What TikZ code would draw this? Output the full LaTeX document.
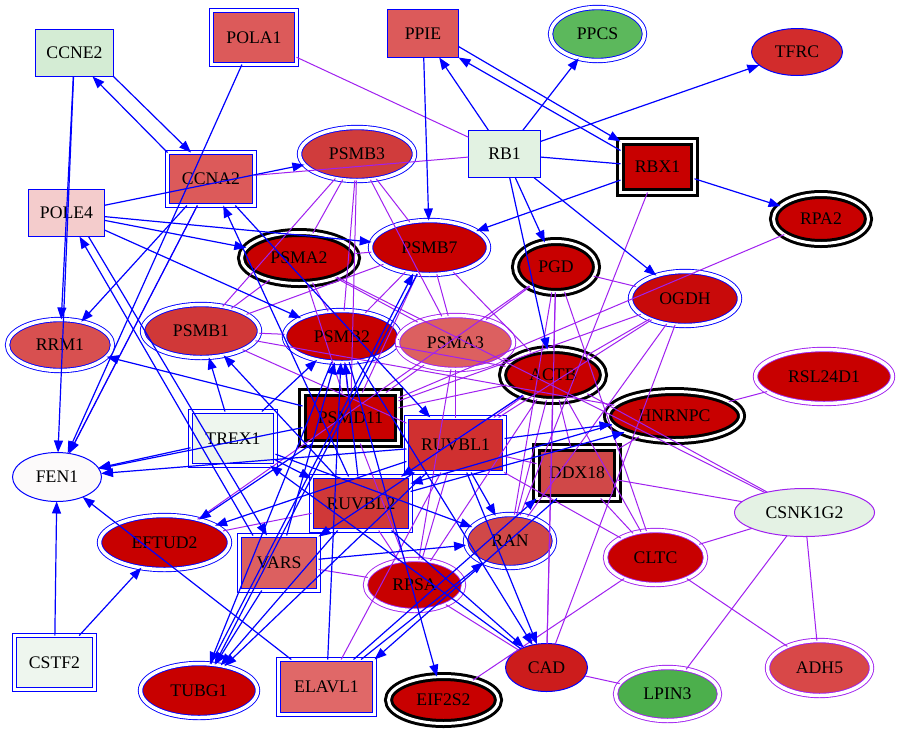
\documentclass[tikz,border=0pt]{standalone}
\usepackage{fontspec}
\setmainfont{Liberation Serif}
\usetikzlibrary{shapes.geometric,arrows.meta,calc}
\definecolor{eblue}{HTML}{0000FF}
\definecolor{epurp}{HTML}{A020F0}
\tikzset{
  base/.style={inner sep=0pt, outer sep=0pt, text=black, font=\fontsize{17.7}{20}\selectfont},
  sbox/.style={base, rectangle, draw=eblue, line width=1pt},
  dbox/.style={base, rectangle, draw=eblue, line width=0.9pt, double=white, double distance=3.5pt},
  kbox/.style={base, rectangle, draw=black, line width=3pt, double=white, double distance=3pt},
  sell/.style={base, ellipse, draw=eblue, line width=1pt},
  psell/.style={base, ellipse, draw=epurp, line width=1pt},
  dell/.style={base, ellipse, draw=eblue, line width=0.9pt, double=white, double distance=3.5pt},
  pell/.style={base, ellipse, draw=epurp, line width=0.9pt, double=white, double distance=3.5pt},
  kell/.style={base, ellipse, draw=black, line width=3pt, double=white, double distance=3pt},
  sz/.style 2 args={minimum width=#1pt, minimum height=#2pt},
  be/.style={draw=eblue, line width=1.2pt, -{Triangle[length=12pt,width=9pt]}},
  bl/.style={draw=eblue, line width=1.2pt},
  pe/.style={draw=epurp, line width=1pt}
}
\begin{document}
\begin{tikzpicture}[x=1pt,y=-1pt]
\useasboundingbox (0,0) rectangle (901,737);
\fill[white] (0,0) rectangle (901,737);
% nodes
\node[sbox, fill={rgb,255:red,212;green,236;blue,212}, sz={78}{47}] (CCNE2) at (74.5,53) {CCNE2};
\node[dbox, fill={rgb,255:red,220;green,90;blue,90}, sz={85}{54}] (POLA1) at (254,37.5) {POLA1};
\node[sbox, fill={rgb,255:red,220;green,90;blue,90}, sz={71}{48}] (PPIE) at (423,33.5) {PPIE};
\node[dell, fill={rgb,255:red,92;green,184;blue,92}, sz={94}{53}] (PPCS) at (597.5,34) {PPCS};
\node[sell, fill={rgb,255:red,210;green,44;blue,44}, sz={91}{47}] (TFRC) at (797,52) {TFRC};
\node[sbox, fill={rgb,255:red,226;green,242;blue,226}, sz={72}{47}] (RB1) at (504.5,154) {RB1};
\node[kbox, fill={rgb,255:red,200;green,0;blue,0}, sz={74}{51}] (RBX1) at (657.5,167) {RBX1};
\node[kell, fill={rgb,255:red,200;green,0;blue,0}, sz={95}{49}] (RPA2) at (821,219) {RPA2};
\node[dbox, fill={rgb,255:red,220;green,90;blue,90}, sz={87}{53}] (CCNA2) at (211,179) {CCNA2};
\node[sbox, fill={rgb,255:red,244;green,204;blue,204}, sz={76}{47}] (POLE4) at (66.5,213) {POLE4};
\node[dell, fill={rgb,255:red,208;green,60;blue,60}, sz={115}{53}] (PSMB3) at (357,154) {PSMB3};
\node[dell, fill={rgb,255:red,200;green,0;blue,0}, sz={118}{54}] (PSMB7) at (429.5,247.5) {PSMB7};
\node[kell, fill={rgb,255:red,200;green,0;blue,0}, sz={115}{51}] (PSMA2) at (299,258) {PSMA2};
\node[kell, fill={rgb,255:red,200;green,0;blue,0}, sz={81}{51}] (PGD) at (556,267) {PGD};
\node[dell, fill={rgb,255:red,200;green,10;blue,10}, sz={109}{54}] (OGDH) at (685,298.5) {OGDH};
\node[dell, fill={rgb,255:red,216;green,80;blue,80}, sz={105}{51}] (RRM1) at (60,345) {RRM1};
\node[dell, fill={rgb,255:red,208;green,56;blue,56}, sz={117}{53}] (PSMB1) at (201,331) {PSMB1};
\node[dell, fill={rgb,255:red,200;green,0;blue,0}, sz={115}{52}] (PSMB2) at (342,336.5) {PSMB2};
\node[pell, fill={rgb,255:red,220;green,96;blue,96}, sz={116}{54}] (PSMA3) at (455.5,342.5) {PSMA3};
\node[kell, fill={rgb,255:red,200;green,0;blue,0}, sz={101}{51}] (ACTB) at (553,375) {ACTB};
\node[pell, fill={rgb,255:red,200;green,0;blue,0}, sz={137}{54}] (RSL24D1) at (824,376.5) {RSL24D1};
\node[kell, fill={rgb,255:red,200;green,0;blue,0}, sz={134}{49}] (HNRNPC) at (674.5,416) {HNRNPC};
\node[dbox, fill={rgb,255:red,238;green,246;blue,238}, sz={85}{54}] (TREX1) at (233,438.5) {TREX1};
\node[kbox, fill={rgb,255:red,200;green,0;blue,0}, sz={96}{51}] (PSMD11) at (350.5,418) {PSMD11};
\node[dbox, fill={rgb,255:red,208;green,48;blue,48}, sz={98}{55}] (RUVBL1) at (455.5,445) {RUVBL1};
\node[kbox, fill={rgb,255:red,208;green,72;blue,72}, sz={81}{51}] (DDX18) at (577,473) {DDX18};
\node[sell, fill={rgb,255:red,252;green,250;blue,250}, sz={89}{49}] (FEN1) at (57,477) {FEN1};
\node[psell, fill={rgb,255:red,228;green,242;blue,228}, sz={140}{48}] (CSNK1G2) at (804.5,512.5) {CSNK1G2};
\node[dbox, fill={rgb,255:red,208;green,56;blue,56}, sz={99}{54}] (RUVBL2) at (361,503.5) {RUVBL2};
\node[dell, fill={rgb,255:red,200;green,0;blue,0}, sz={130}{54}] (EFTUD2) at (164.5,542.5) {EFTUD2};
\node[dbox, fill={rgb,255:red,220;green,96;blue,96}, sz={79}{55}] (VARS) at (279,563) {VARS};
\node[dell, fill={rgb,255:red,208;green,72;blue,72}, sz={89}{53}] (RAN) at (510,541) {RAN};
\node[pell, fill={rgb,255:red,200;green,0;blue,0}, sz={100}{54}] (CLTC) at (655.5,557.5) {CLTC};
\node[pell, fill={rgb,255:red,200;green,0;blue,0}, sz={98}{51}] (RPSA) at (414.5,585) {RPSA};
\node[dbox, fill={rgb,255:red,238;green,246;blue,238}, sz={80}{54}] (CSTF2) at (54.5,662.5) {CSTF2};
\node[dell, fill={rgb,255:red,200;green,0;blue,0}, sz={117}{54}] (TUBG1) at (199,690.5) {TUBG1};
\node[dbox, fill={rgb,255:red,224;green,104;blue,104}, sz={96}{55}] (ELAVL1) at (326.5,687) {ELAVL1};
\node[kell, fill={rgb,255:red,200;green,0;blue,0}, sz={110}{47}] (EIF2S2) at (443.5,700) {EIF2S2};
\node[sell, fill={rgb,255:red,204;green,28;blue,28}, sz={82}{48}] (CAD) at (546.5,667.5) {CAD};
\node[pell, fill={rgb,255:red,76;green,175;blue,76}, sz={104}{53}] (LPIN3) at (667.5,694) {LPIN3};
\node[pell, fill={rgb,255:red,216;green,72;blue,72}, sz={104}{55}] (ADH5) at (819.5,668) {ADH5};
% undirected (purple) edges
\foreach \a/\b in {RB1/POLA1, RB1/CCNA2, CCNA2/FEN1,
  PSMB3/PSMB1, PSMB3/PSMA2, PSMB3/PSMB2, PSMB3/PSMD11, PSMB3/PSMA3, PSMB3/PSMB7,
  PSMB7/PSMA2, PSMB7/PSMB2, PSMB7/PSMA3, PSMB7/ACTB, PSMB7/PSMD11, PSMB7/PSMB1,
  PSMA2/PSMB1, PSMA2/PSMB2, PSMA2/PSMD11, PSMA2/PSMA3, PSMA2/CSNK1G2,
  PSMB1/PSMB2, PSMB1/RUVBL1, PSMB1/HNRNPC,
  PSMB2/PSMA3, PSMB2/PSMD11, PSMB2/ACTB,
  PSMA3/ACTB, PSMA3/RUVBL1, PSMA3/RPSA, PSMA3/PSMD11,
  PGD/OGDH, PGD/ACTB, PGD/EFTUD2, PGD/CLTC, PGD/CAD, PGD/RAN, PGD/PSMA3,
  OGDH/ACTB, OGDH/PSMD11, OGDH/RUVBL1, OGDH/CAD, OGDH/RAN,
  RPA2/PSMD11, RBX1/RAN,
  ACTB/PSMD11, ACTB/RUVBL1, ACTB/RUVBL2, ACTB/DDX18, ACTB/RAN, ACTB/RPSA, ACTB/CAD, ACTB/CLTC, ACTB/CSNK1G2,
  HNRNPC/RSL24D1, HNRNPC/DDX18,
  DDX18/CSNK1G2, DDX18/CLTC, DDX18/RUVBL1,
  CSNK1G2/CLTC, CSNK1G2/LPIN3, CSNK1G2/ADH5, CLTC/ADH5, CLTC/EIF2S2, CLTC/RUVBL1,
  CAD/LPIN3, RPSA/VARS, RPSA/CAD, RPSA/RUVBL2, RPSA/PSMD11, RPSA/RUVBL1,
  ELAVL1/RUVBL1, RUVBL2/EFTUD2}
  \draw[pe] (\a) -- (\b);
% directed (blue) edges
\foreach \a/\b in {POLE4/PSMB3, POLE4/PSMA2, POLE4/PSMB7, POLE4/PSMB2,
  CCNE2/RRM1, CCNE2/FEN1, POLA1/FEN1, CCNA2/FEN1, CCNA2/RRM1, CCNA2/RUVBL1, RUVBL2/CCNA2,
  RB1/PPIE, PPIE/PSMB7, RB1/PPCS, RB1/TFRC, RBX1/RPA2, RBX1/PSMB7, RB1/OGDH, RB1/PGD, RB1/ACTB,
  PSMD11/RRM1, TREX1/PSMB1, RUVBL2/PSMB1, TREX1/FEN1, PSMD11/FEN1, RUVBL1/FEN1, ELAVL1/FEN1,
  CSTF2/FEN1, CSTF2/EFTUD2, PSMD11/EFTUD2, RUVBL1/EFTUD2,
  ELAVL1/PSMB2, VARS/PSMB2, RUVBL2/PSMB2, TREX1/PSMB2,
  PSMB2/TUBG1, VARS/TUBG1, RUVBL2/TUBG1, RUVBL1/TUBG1,
  TREX1/RUVBL2, CAD/TREX1, TREX1/RAN, RUVBL1/HNRNPC, RUVBL1/RAN, VARS/RAN, ELAVL1/RAN,
  RUVBL1/CAD, RUVBL2/CAD, PSMB2/CAD, PSMB2/EIF2S2, RUVBL1/VARS, ACTB/RUVBL2}
  \draw[be] (\a) -- (\b);
\draw[bl] (RB1) -- (RBX1);
% reciprocal pairs
\draw[be] (CCNE2.south east) -- ([xshift=-20pt]CCNA2.north);
\draw[be] (CCNA2.north west) -- ([xshift=18pt]CCNE2.south);
\draw[be] ([yshift=-13pt]PPIE.east) -- (RBX1.north west);
\draw[be] ([yshift=-9pt]RBX1.north west) -- (PPIE.south east);
\draw[be] ([xshift=22pt]POLE4.south) -- ([xshift=-12pt]VARS.north);
\draw[be] ([xshift=-26pt]VARS.north) -- ([xshift=13pt]POLE4.south);
\draw[be] ([xshift=27pt]ELAVL1.north) -- (DDX18.south west);
\draw[be] ([xshift=-20pt]DDX18.south) -- (ELAVL1.north east);
\draw[be] ([yshift=12pt]RUVBL2.east) -- (HNRNPC.198);
\draw[be] (HNRNPC.188) -- ([yshift=20pt]RUVBL2.east);
\draw[be] (TUBG1.66) -- (PSMB7.238);
\draw[be] (PSMB7.245) -- (TUBG1.59);
\end{tikzpicture}
\end{document}
